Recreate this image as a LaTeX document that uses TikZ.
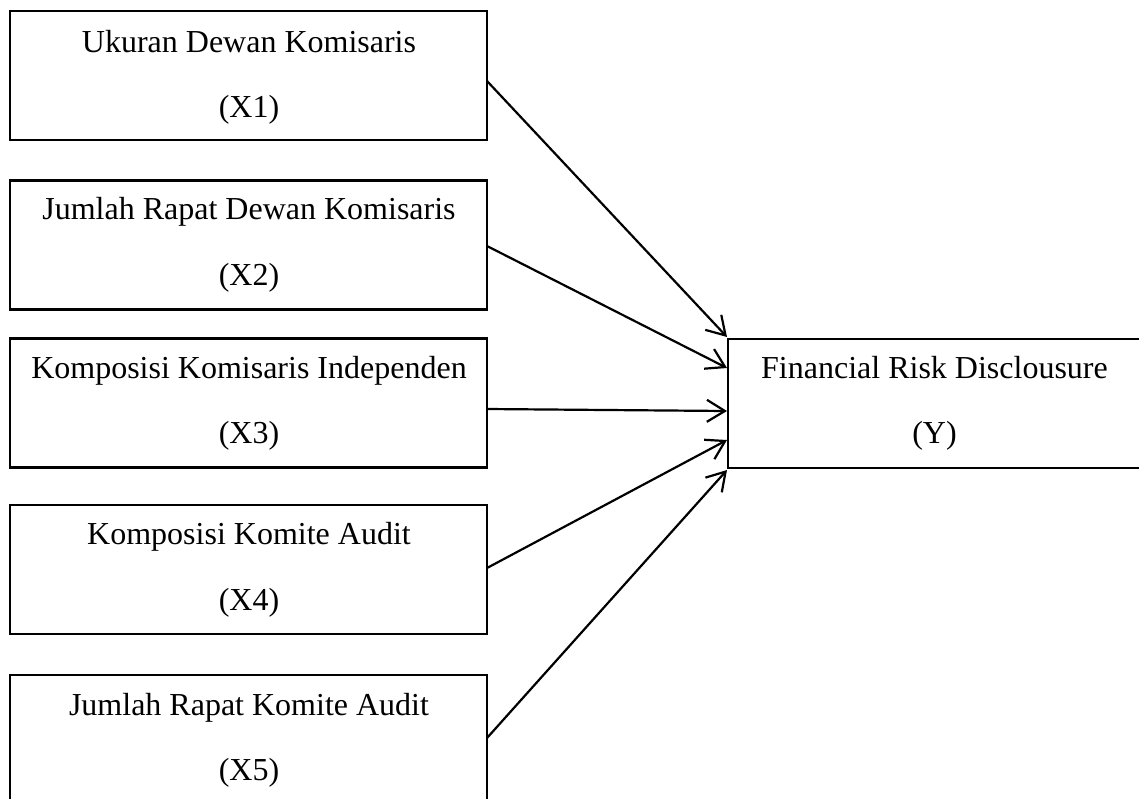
\documentclass[tikz,border=0pt]{standalone}
\usepackage{fontspec}
\setmainfont{Liberation Serif}
\usetikzlibrary{arrows.meta}
\begin{document}
\begin{tikzpicture}[x=1pt,y=-1pt,
  varbox/.style={draw=black,line width=2.2pt,rectangle,minimum width=477pt,minimum height=129pt,inner sep=0pt,outer sep=0pt},
  ybox/.style={draw=black,line width=2.2pt,rectangle,minimum width=413pt,minimum height=129pt,inner sep=0pt,outer sep=0pt},
  lbl/.style={anchor=base,inner sep=0pt,font=\fontsize{32}{40}\selectfont},
  conn/.style={line width=2.2pt,line cap=round,-{Straight Barb[length=18pt,width=22pt,line width=2.2pt]}}]
\useasboundingbox (0,0) rectangle (1139,798);
\clip (0,0) rectangle (1139,798);
% left boxes
\node[varbox] (x1) at (248.5,75.5) {};
\node[varbox] (x2) at (248.5,245) {};
\node[varbox] (x3) at (248.5,403) {};
\node[varbox] (x4) at (248.5,569.5) {};
\node[varbox] (x5) at (248.5,739.5) {};
% right box
\node[ybox] (y) at (934.5,403.5) {};
% labels
\node[lbl] (t1a) at (249,52) {Ukuran Dewan Komisaris};
\node[lbl] (t1b) at (249,117) {(X1)};
\node[lbl] (t2a) at (249,219) {Jumlah Rapat Dewan Komisaris};
\node[lbl] (t2b) at (249,285) {(X2)};
\node[lbl] (t3a) at (249,378) {Komposisi Komisaris Independen};
\node[lbl] (t3b) at (249,443) {(X3)};
\node[lbl] (t4a) at (249,544) {Komposisi Komite Audit};
\node[lbl] (t4b) at (249,610) {(X4)};
\node[lbl] (t5a) at (249,715) {Jumlah Rapat Komite Audit};
\node[lbl] (t5b) at (249,780) {(X5)};
\node[lbl] (tya) at (934.5,378) {Financial Risk Disclousure};
\node[lbl] (tyb) at (934.5,443) {(Y)};
% arrow end points on Y
\coordinate (e1) at (727,337);
\coordinate (e2) at (727,368);
\coordinate (e3) at (727,411);
\coordinate (e4) at (727,440);
\coordinate (e5) at (727,470);
% connectors
\draw[conn] ([yshift=-5.5pt]x1.east) -- (e1);
\draw[conn] ([yshift=-1pt]x2.east) -- (e2);
\draw[conn] ([yshift=-6pt]x3.east) -- (e3);
\draw[conn] ([yshift=1.5pt]x4.east) -- (e4);
\draw[conn] ([yshift=1.5pt]x5.east) -- (e5);
\end{tikzpicture}
\end{document}
